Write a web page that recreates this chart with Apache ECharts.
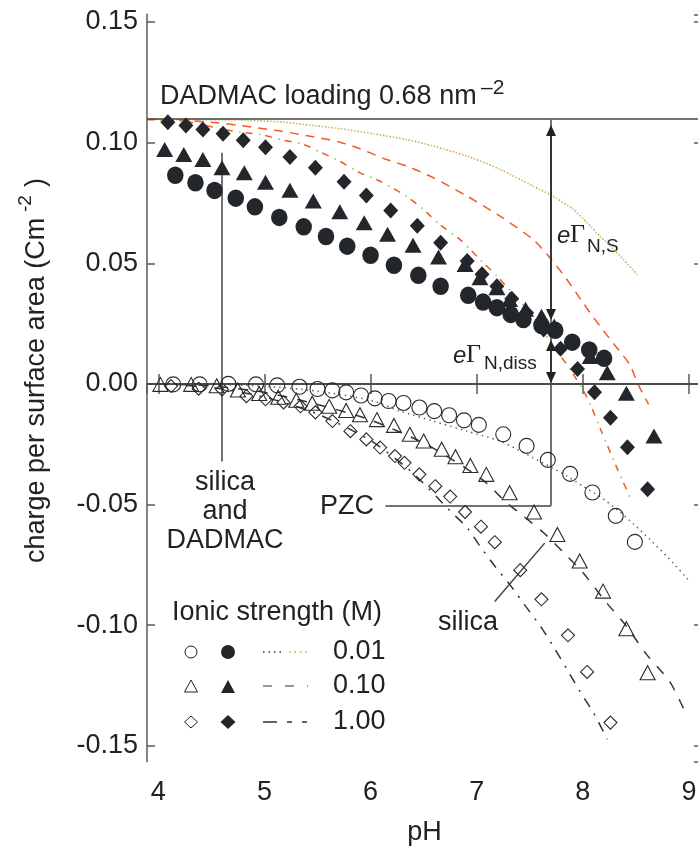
<!DOCTYPE html>
<html><head><meta charset="utf-8">
<script src="https://cdn.jsdelivr.net/npm/echarts@6/dist/echarts.min.js"></script>
<style>html,body{margin:0;padding:0;background:#fff}#c{width:698px;height:847px}</style>
</head><body><div id="c"></div>
<script>
// ---------- data (pH, charge per surface area C m^-2) ----------
const xTicks = [4, 5, 6, 7, 8, 9];
const yTicks = [-0.15, -0.10, -0.05, 0.00, 0.05, 0.10, 0.15];
const ionicLabels = ['0.01', '0.10', '1.00'];

// silica + DADMAC (filled symbols)
const dadmac001 = [[4.16,0.0865],[4.35,0.0834],[4.53,0.0802],[4.73,0.0770],[4.91,0.0734],[5.14,0.0690],[5.37,0.0651],[5.58,0.0611],[5.78,0.0571],[6.00,0.0533],[6.22,0.0492],[6.45,0.0450],[6.66,0.0405],[6.92,0.0367],[7.06,0.0339],[7.19,0.0316],[7.32,0.0288],[7.44,0.0267],[7.61,0.0242],[7.74,0.0222],[7.90,0.0173],[8.06,0.0141],[8.20,0.0106]];
const dadmac010 = [[4.06,0.0972],[4.24,0.0951],[4.42,0.0930],[4.60,0.0896],[4.81,0.0875],[5.01,0.0836],[5.24,0.0803],[5.46,0.0758],[5.71,0.0714],[5.94,0.0668],[6.16,0.0620],[6.40,0.0575],[6.64,0.0526],[6.89,0.0495],[7.03,0.0440],[7.19,0.0399],[7.31,0.0350],[7.46,0.0309],[7.61,0.0280],[7.73,0.0240],[8.07,0.0114],[8.23,0.0046],[8.41,-0.0039],[8.67,-0.0216]];
const dadmac100 = [[4.09,0.1085],[4.26,0.1071],[4.42,0.1055],[4.61,0.1037],[4.80,0.1010],[5.01,0.0981],[5.24,0.0940],[5.48,0.0896],[5.75,0.0838],[5.96,0.0781],[6.19,0.0719],[6.44,0.0656],[6.66,0.0585],[6.91,0.0509],[7.05,0.0454],[7.19,0.0405],[7.33,0.0353],[7.47,0.0295],[7.63,0.0226],[7.79,0.0146],[7.95,0.0062],[8.11,-0.0035],[8.26,-0.0140],[8.42,-0.0263],[8.61,-0.0437]];

// silica alone (open symbols)
const silica001 = [[4.14,-0.0002],[4.39,-0.0002],[4.66,0.0000],[4.92,-0.0002],[5.12,-0.0006],[5.33,-0.0012],[5.50,-0.0021],[5.64,-0.0027],[5.77,-0.0035],[5.91,-0.0048],[6.04,-0.0060],[6.17,-0.0071],[6.31,-0.0079],[6.46,-0.0098],[6.60,-0.0113],[6.74,-0.0130],[6.88,-0.0151],[7.02,-0.0170],[7.25,-0.0209],[7.47,-0.0257],[7.67,-0.0315],[7.88,-0.0373],[8.09,-0.0450],[8.31,-0.0547],[8.49,-0.0655]];
const silica010 = [[4.02,-0.0002],[4.31,-0.0002],[4.55,-0.0008],[4.75,-0.0025],[4.95,-0.0040],[5.13,-0.0055],[5.30,-0.0068],[5.45,-0.0080],[5.61,-0.0093],[5.77,-0.0110],[5.90,-0.0128],[6.06,-0.0148],[6.22,-0.0172],[6.37,-0.0209],[6.50,-0.0237],[6.67,-0.0271],[6.80,-0.0302],[6.94,-0.0338],[7.09,-0.0375],[7.31,-0.0451],[7.54,-0.0531],[7.76,-0.0624],[7.97,-0.0734],[8.19,-0.0859],[8.41,-0.1015],[8.61,-0.1197]];
const silica100 = [[4.12,-0.0009],[4.38,-0.0020],[4.60,-0.0023],[4.83,-0.0051],[5.01,-0.0064],[5.18,-0.0077],[5.34,-0.0093],[5.48,-0.0118],[5.64,-0.0154],[5.81,-0.0196],[5.96,-0.0230],[6.09,-0.0264],[6.23,-0.0299],[6.32,-0.0327],[6.46,-0.0375],[6.61,-0.0424],[6.75,-0.0467],[6.89,-0.0531],[7.04,-0.0592],[7.17,-0.0656],[7.41,-0.0772],[7.61,-0.0893],[7.86,-0.1042],[8.04,-0.1194],[8.26,-0.1404]];

// model curves, silica + DADMAC
const modelDadmac001 = [[3.89,0.1096],[4.50,0.1095],[4.83,0.1093],[5.18,0.1085],[5.46,0.1071],[5.71,0.1058],[6.02,0.1037],[6.34,0.1013],[6.59,0.0986],[6.91,0.0944],[7.22,0.0889],[7.53,0.0820],[7.69,0.0785],[7.91,0.0723],[8.16,0.0613],[8.32,0.0545],[8.51,0.0454]];
const modelDadmac010 = [[3.89,0.1096],[4.20,0.1094],[4.55,0.1082],[4.77,0.1071],[5.15,0.1048],[5.46,0.1024],[5.71,0.1002],[5.90,0.0975],[6.15,0.0930],[6.34,0.0903],[6.59,0.0855],[6.91,0.0778],[7.22,0.0695],[7.53,0.0599],[7.69,0.0523],[7.85,0.0433],[8.00,0.0337],[8.16,0.0240],[8.32,0.0150],[8.44,0.0081],[8.52,-0.0002],[8.62,-0.0085]];
const modelDadmac100 = [[3.89,0.1096],[4.30,0.1085],[4.58,0.1058],[4.77,0.1044],[4.96,0.1034],[5.15,0.1013],[5.37,0.0992],[5.54,0.0958],[5.71,0.0923],[5.90,0.0875],[6.09,0.0840],[6.31,0.0785],[6.48,0.0730],[6.65,0.0661],[6.84,0.0599],[7.03,0.0516],[7.19,0.0447],[7.53,0.0281],[7.71,0.0164],[7.88,0.0060],[8.04,-0.0057],[8.18,-0.0202],[8.32,-0.0347],[8.46,-0.0486]];

// model curves, silica alone
const modelSilica001 = [[4.00,0.0000],[4.50,-0.0003],[5.00,-0.0010],[5.50,-0.0030],[6.00,-0.0068],[6.28,-0.0113],[6.59,-0.0154],[6.91,-0.0196],[7.22,-0.0237],[7.38,-0.0271],[7.53,-0.0306],[7.69,-0.0343],[7.85,-0.0382],[8.00,-0.0424],[8.16,-0.0467],[8.32,-0.0520],[8.48,-0.0582],[8.63,-0.0644],[8.79,-0.0714],[8.99,-0.0810]];
const modelSilica010 = [[4.00,0.0000],[4.50,-0.0008],[5.00,-0.0035],[5.50,-0.0085],[6.00,-0.0150],[6.50,-0.0245],[6.89,-0.0347],[7.09,-0.0410],[7.28,-0.0492],[7.44,-0.0548],[7.63,-0.0617],[7.82,-0.0700],[8.00,-0.0782],[8.21,-0.0900],[8.41,-0.1004],[8.60,-0.1121],[8.82,-0.1235],[8.96,-0.1357]];
const modelSilica100 = [[4.00,0.0000],[4.50,-0.0015],[5.00,-0.0055],[5.50,-0.0125],[6.00,-0.0235],[6.40,-0.0370],[6.75,-0.0527],[6.91,-0.0596],[7.03,-0.0672],[7.17,-0.0755],[7.31,-0.0831],[7.46,-0.0921],[7.60,-0.1004],[7.72,-0.1087],[7.85,-0.1183],[7.97,-0.1273],[8.10,-0.1363],[8.23,-0.1473]];

// annotation values
const loadingLevel = 0.1095;
const pzcLevel = -0.0505;
const arrowPH = 7.70;
const arrowNS = [0.1050, 0.0288];
const arrowDiss = [0.0159, 0.0027];
const silicaDadmacPointer = [[4.60, 0.0958], [4.60, -0.0322]];
const pzcPointer = [[6.14, pzcLevel], [arrowPH, pzcLevel]];
const silicaPointer = [[7.17, -0.0902], [7.64, -0.0660]];

// ---------- chart ----------
const FONT = '"Liberation Sans", Arial, sans-serif';
const INK = '#222';
const AX = '#5a5a5a';
const FILL = '#23272b';
const ORANGE = '#f15a24';
const GREEN = '#8cc63f';
const SALMON = '#f6a07e';

function xfmt(v){ return Math.abs(v - Math.round(v)) < 1e-6 ? String(Math.round(v)) : ''; }
function yfmt(v){ const k = v / 0.05; if (Math.abs(k - Math.round(k)) > 1e-6) return ''; const r = Math.round(k) * 0.05; return (Math.abs(r) < 1e-9 ? 0 : r).toFixed(2); }

function curve(data, color, type, width, offset, z){
  return {type:'line', data, symbol:'none', showSymbol:false, smooth:0.25, silent:true, animation:false,
    lineStyle:{color, width, type, dashOffset: offset || 0, cap:'butt', opacity:1}, z: z || 2};
}
function marks(data, symbol, size, filled){
  return {type:'scatter', data, symbol, symbolSize:size, silent:true, animation:false, z: filled ? 6 : 5,
    emphasis:{disabled:true},
    itemStyle: filled ? {color:FILL, opacity:1} : {color:'rgba(255,255,255,0)', borderColor:'#2a2a2a', borderWidth:1.1, opacity:1}};
}

const chart = echarts.init(document.getElementById('c'), null, {renderer:'canvas'});

const xBase = {type:'value', min:3.8935, max:9.1225, minInterval:1, maxInterval:1, splitLine:{show:false},
  axisLine:{show:true, lineStyle:{color:AX, width:1.5}}, axisTick:{show:true, inside:true, length:10, lineStyle:{color:AX, width:1.5}}};
const yBase = {type:'value', min:-0.1566, max:0.1532, minInterval:0.05, maxInterval:0.05, splitLine:{show:false},
  axisLine:{show:true, lineStyle:{color:AX, width:1.5}}, axisTick:{show:true, inside:true, length:8, lineStyle:{color:AX, width:1.5}}};

const option = {
  backgroundColor:'#fff',
  animation:false,
  grid:{left:147, right:-4, top:14.3, bottom:85.3, containLabel:false, outerBoundsMode:'none'},
  xAxis:[
    Object.assign({}, xBase, {position:'bottom', name:'pH', nameLocation:'middle', nameGap:57,
      nameTextStyle:{fontFamily:FONT, fontSize:27, color:INK},
      axisLabel:{show:true, formatter:xfmt, margin:17, fontFamily:FONT, fontSize:27, color:INK, showMinLabel:false, showMaxLabel:false}}),
    Object.assign({}, xBase, {position:'top', axisLabel:{show:false}})
  ],
  yAxis:[
    Object.assign({}, yBase, {position:'left',
      axisLabel:{show:true, formatter:yfmt, margin:9, fontFamily:FONT, fontSize:27, color:INK, showMinLabel:false, showMaxLabel:false}}),
    Object.assign({}, yBase, {position:'right', axisLabel:{show:false}})
  ],
  series:[
    // model curves silica + DADMAC
    curve(modelDadmac001, SALMON, [1.5,5], 1.6, 0, 2),
    curve(modelDadmac001, GREEN, [1.5,5], 1.6, 3.2, 2),
    curve(modelDadmac010, ORANGE, [9,7], 1.5, 0, 2),
    curve(modelDadmac100, ORANGE, [7,13], 1.5, 0, 2),
    curve(modelDadmac100, GREEN, [1.5,18.5], 1.6, 6.5, 2),
    // model curves silica
    curve(modelSilica001, '#666', [1.5,4], 1.5, 0, 2),
    curve(modelSilica010, '#333', [10,10], 1.5, 0, 2),
    curve(modelSilica100, '#333', [10,8,2,8], 1.5, 0, 2),
    // reference lines and pointers
    {type:'line', data:[], silent:true, animation:false, z:3,
      markLine:{silent:true, animation:false, symbol:['none','none'], label:{show:false},
        lineStyle:{color:'#444', width:1.5, type:'solid', opacity:1}, emphasis:{disabled:true},
        data:[
          {yAxis:0},
          {yAxis:loadingLevel},
          [{coord:[arrowPH, loadingLevel]}, {coord:[arrowPH, pzcLevel]}],
          [{coord:pzcPointer[0]}, {coord:pzcPointer[1]}],
          [{coord:silicaDadmacPointer[0]}, {coord:silicaDadmacPointer[1]}],
          [{coord:silicaPointer[0]}, {coord:silicaPointer[1]}]
        ]}},
    {type:'line', data:[], silent:true, animation:false, z:7,
      markLine:{silent:true, animation:false, symbol:['triangle','triangle'], symbolSize:[10,11], label:{show:false},
        lineStyle:{color:'#222', width:1.5, type:'solid', opacity:1}, itemStyle:{color:'#222'}, emphasis:{disabled:true},
        data:[
          [{coord:[arrowPH, arrowNS[0]]}, {coord:[arrowPH, arrowNS[1]]}],
          [{coord:[arrowPH, arrowDiss[0]]}, {coord:[arrowPH, arrowDiss[1]]}]
        ]}},
    // data points
    marks(silica001, 'circle', 15, false),
    marks(silica010, 'triangle', [15,14], false),
    marks(silica100, 'diamond', [13,13], false),
    marks(dadmac001, 'circle', [16.5,17.5], true),
    marks(dadmac010, 'triangle', [17,15], true),
    marks(dadmac100, 'diamond', [15,16], true)
  ],
  graphic:[
    // y axis name (rotated)
    {type:'group', x:37, y:563, rotation:Math.PI/2, silent:true, children:[
      {type:'text', x:0, y:0, style:{text:'charge per surface area (Cm', font:'27px '+FONT, fill:INK, align:'left', verticalAlign:'middle'}},
      {type:'text', x:351, y:-11, style:{text:'-2', font:'19px '+FONT, fill:INK, align:'left', verticalAlign:'middle'}},
      {type:'text', x:376, y:0, style:{text:')', font:'27px '+FONT, fill:INK, align:'left', verticalAlign:'middle'}}
    ]},
    {type:'text', x:160, y:97, silent:true, style:{text:'DADMAC loading 0.68 nm', font:'27px '+FONT, fill:INK, align:'left', verticalAlign:'middle'}},
    {type:'text', x:481, y:88, silent:true, style:{text:'\u20132', font:'21px '+FONT, fill:INK, align:'left', verticalAlign:'middle'}},
    // e Gamma N,S
    {type:'text', x:557, y:236, silent:true, style:{text:'e', font:'italic 24px '+FONT, fill:INK, align:'left', verticalAlign:'middle'}},
    {type:'text', x:570, y:235, silent:true, style:{text:'\u0393', font:'26px "Liberation Serif", serif', fill:INK, align:'left', verticalAlign:'middle'}},
    {type:'text', x:587, y:247, silent:true, style:{text:'N,S', font:'19px '+FONT, fill:INK, align:'left', verticalAlign:'middle'}},
    // e Gamma N,diss
    {type:'text', x:453, y:356, silent:true, style:{text:'e', font:'italic 24px '+FONT, fill:INK, align:'left', verticalAlign:'middle'}},
    {type:'text', x:466, y:355, silent:true, style:{text:'\u0393', font:'26px "Liberation Serif", serif', fill:INK, align:'left', verticalAlign:'middle'}},
    {type:'text', x:484, y:364, silent:true, style:{text:'N,diss', font:'19px '+FONT, fill:INK, align:'left', verticalAlign:'middle'}},
    // other labels
    {type:'text', x:225, y:512, silent:true, style:{text:'silica\nand\nDADMAC', font:'27px '+FONT, lineHeight:29, fill:INK, align:'center', verticalAlign:'middle'}},
    {type:'text', x:347, y:507, silent:true, style:{text:'PZC', font:'27px '+FONT, fill:INK, align:'center', verticalAlign:'middle'}},
    {type:'text', x:438, y:623, silent:true, style:{text:'silica', font:'27px '+FONT, fill:INK, align:'left', verticalAlign:'middle'}},
    // legend
    {type:'text', x:172, y:613, silent:true, style:{text:'Ionic strength (M)', font:'27px '+FONT, fill:INK, align:'left', verticalAlign:'middle'}},
    {type:'circle', silent:true, shape:{cx:191, cy:652, r:6}, style:{fill:'none', stroke:'#222', lineWidth:1}},
    {type:'circle', silent:true, shape:{cx:228, cy:652, r:7}, style:{fill:FILL}},
    {type:'polygon', silent:true, shape:{points:[[184.5,692],[197.5,692],[191,680]]}, style:{fill:'none', stroke:'#222', lineWidth:1}},
    {type:'polygon', silent:true, shape:{points:[[221,693],[235,693],[228,680]]}, style:{fill:FILL}},
    {type:'polygon', silent:true, shape:{points:[[191,716],[197.5,722],[191,728],[184.5,722]]}, style:{fill:'none', stroke:'#222', lineWidth:1}},
    {type:'polygon', silent:true, shape:{points:[[228,715],[235.5,722],[228,729],[220.5,722]]}, style:{fill:FILL}},
    {type:'line', silent:true, shape:{x1:263, y1:652, x2:285, y2:652}, style:{stroke:'#333', lineWidth:1.5, lineDash:[1.5,4]}},
    {type:'line', silent:true, shape:{x1:289, y1:652, x2:308, y2:652}, style:{stroke:GREEN, lineWidth:1.5, lineDash:[1.5,4]}},
    {type:'line', silent:true, shape:{x1:263, y1:686, x2:308, y2:686}, style:{stroke:'#777', lineWidth:1.5, lineDash:[9,13]}},
    {type:'line', silent:true, shape:{x1:263, y1:722, x2:308, y2:722}, style:{stroke:'#333', lineWidth:1.5, lineDash:[14,10,5,10,5,100]}},
    {type:'text', x:333, y:652, silent:true, style:{text:ionicLabels[0], font:'27px '+FONT, fill:INK, align:'left', verticalAlign:'middle'}},
    {type:'text', x:333, y:686, silent:true, style:{text:ionicLabels[1], font:'27px '+FONT, fill:INK, align:'left', verticalAlign:'middle'}},
    {type:'text', x:333, y:722, silent:true, style:{text:ionicLabels[2], font:'27px '+FONT, fill:INK, align:'left', verticalAlign:'middle'}}
  ]
};
chart.setOption(option);
</script></body></html>
